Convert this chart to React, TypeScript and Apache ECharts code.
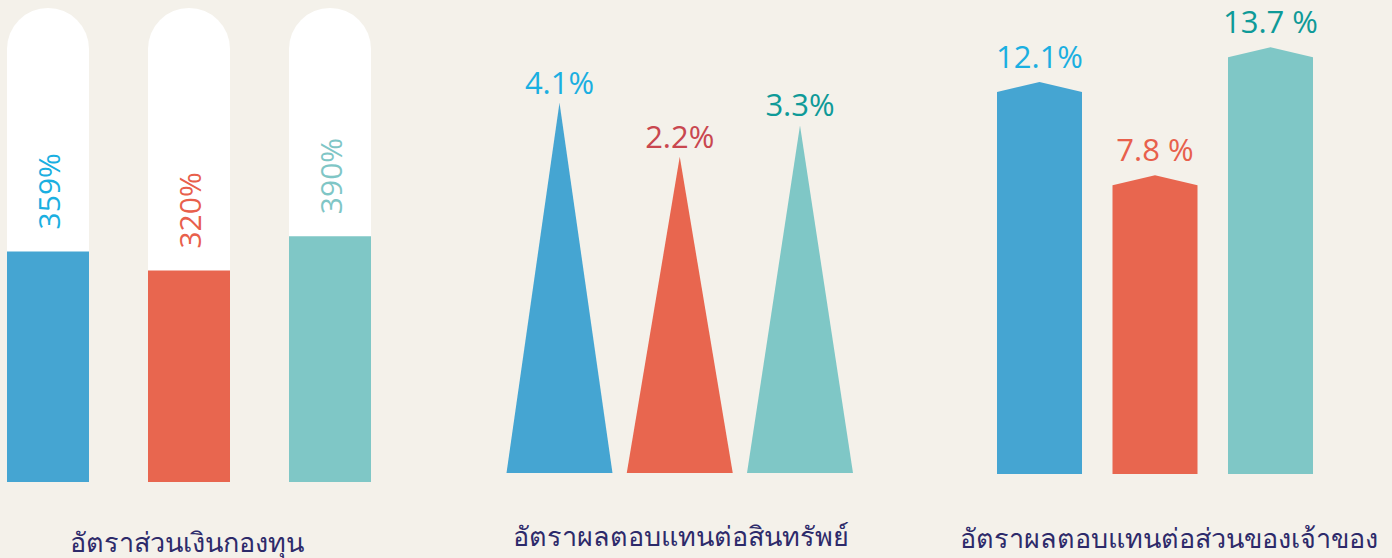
import React, { useEffect, useRef } from "react";
import * as echarts from "echarts";

// ---- data ----
const capCategories = ["c1", "c2", "c3"];
const capValues = [359, 320, 390];
const capLabels = ["359%", "320%", "390%"];

const roaCategories = ["r1", "r2", "r3"];
const roaValues = [4.1, 2.2, 3.3];
const roaLabels = ["4.1%", "2.2%", "3.3%"];

const roeCategories = ["e1", "e2", "e3"];
const roeValues = [12.1, 7.8, 13.7];
const roeLabels = ["12.1%", "7.8 %", "13.7 %"];

const titles = [
  "อัตราส่วนเงินกองทุน",
  "อัตราผลตอบแทนต่อสินทรัพย์",
  "อัตราผลตอบแทนต่อส่วนของเจ้าของ",
];

// ---- styles ----
const BG = "#f4f1ea";
const fills = ["#45a5d2", "#e8664f", "#7fc7c6"];
const capLabelColors = ["#1aafe1", "#e8604c", "#7fc6c6"];
const roaLabelColors = ["#1aafe1", "#c9474f", "#0e9a98"];
const roeLabelColors = ["#1aafe1", "#e8604c", "#0e9a98"];
const NUM_FONT = '"Open Sans", "Noto Sans", sans-serif';
const TITLE_FONT = '"Noto Sans", "Open Sans", sans-serif';
const TITLE_COLOR = "#2d2a6a";

const CAP_MIN = -110;
const CAP_MAX = 854;
const ROA_MIN = -8.9;
const ROA_MAX = 5;
const ROE_MIN = -5.5;
const ROE_MAX = 15;

const hiddenAxis = {
  axisLine: { show: false },
  axisTick: { show: false },
  axisLabel: { show: false },
  splitLine: { show: false },
};

export default function App() {
  const ref = useRef<HTMLDivElement>(null);

  useEffect(() => {
    document.body.style.margin = "0";
    document.body.style.background = BG;
    const chart = echarts.init(ref.current!, null, { renderer: "svg" });

    const option: any = {
      animation: false,
      backgroundColor: BG,
      grid: [
        { left: 48, top: 8, width: 282, height: 474 },
        { left: 559.5, top: 77, width: 240.5, height: 396 },
        { left: 1039.5, top: 29, width: 231, height: 445 },
      ],
      xAxis: [
        { type: "category", gridIndex: 0, data: capCategories, boundaryGap: false, ...hiddenAxis },
        { type: "category", gridIndex: 1, data: roaCategories, boundaryGap: false, ...hiddenAxis },
        { type: "category", gridIndex: 2, data: roeCategories, boundaryGap: false, ...hiddenAxis },
      ],
      yAxis: [
        { type: "value", gridIndex: 0, min: CAP_MIN, max: CAP_MAX, ...hiddenAxis },
        { type: "value", gridIndex: 1, min: ROA_MIN, max: ROA_MAX, ...hiddenAxis },
        { type: "value", gridIndex: 2, min: ROE_MIN, max: ROE_MAX, ...hiddenAxis },
      ],
      series: [
        {
          type: "custom",
          xAxisIndex: 0,
          yAxisIndex: 0,
          clip: false,
          data: capValues.map((v, i) => [i, v]),
          renderItem: (params: any, api: any) => {
            const i = api.value(0);
            const v = api.value(1);
            const top = api.coord([i, v]);
            const base = api.coord([i, CAP_MIN]);
            const full = api.coord([i, CAP_MAX]);
            const w = 82;
            return {
              type: "group",
              children: [
                {
                  type: "rect",
                  shape: {
                    x: base[0] - w / 2,
                    y: full[1],
                    width: w,
                    height: base[1] - full[1],
                    r: [41, 41, 0, 0],
                  },
                  style: { fill: "#ffffff" },
                },
                {
                  type: "rect",
                  shape: {
                    x: base[0] - w / 2,
                    y: top[1],
                    width: w,
                    height: base[1] - top[1],
                  },
                  style: { fill: fills[i] },
                },
                {
                  type: "text",
                  x: top[0],
                  y: top[1] - 22,
                  rotation: Math.PI / 2,
                  style: {
                    text: capLabels[i],
                    fill: capLabelColors[i],
                    fontSize: 30,
                    fontFamily: NUM_FONT,
                    align: "left",
                    verticalAlign: "middle",
                  },
                },
              ],
            };
          },
        },
        {
          type: "custom",
          xAxisIndex: 1,
          yAxisIndex: 1,
          clip: false,
          data: roaValues.map((v, i) => [i, v]),
          renderItem: (params: any, api: any) => {
            const i = api.value(0);
            const v = api.value(1);
            const top = api.coord([i, v]);
            const base = api.coord([i, ROA_MIN]);
            const hw = 53;
            return {
              type: "group",
              children: [
                {
                  type: "polygon",
                  shape: {
                    points: [
                      [base[0] - hw, base[1]],
                      [top[0], top[1]],
                      [base[0] + hw, base[1]],
                    ],
                  },
                  style: { fill: fills[i] },
                },
                {
                  type: "text",
                  x: top[0],
                  y: top[1] - 21,
                  style: {
                    text: roaLabels[i],
                    fill: roaLabelColors[i],
                    fontSize: 31,
                    fontFamily: NUM_FONT,
                    align: "center",
                    verticalAlign: "middle",
                  },
                },
              ],
            };
          },
        },
        {
          type: "custom",
          xAxisIndex: 2,
          yAxisIndex: 2,
          clip: false,
          data: roeValues.map((v, i) => [i, v]),
          renderItem: (params: any, api: any) => {
            const i = api.value(0);
            const v = api.value(1);
            const top = api.coord([i, v]);
            const base = api.coord([i, ROE_MIN]);
            const hw = 42.5;
            const peak = 10;
            return {
              type: "group",
              children: [
                {
                  type: "polygon",
                  shape: {
                    points: [
                      [base[0] - hw, base[1]],
                      [base[0] - hw, top[1]],
                      [top[0], top[1] - peak],
                      [base[0] + hw, top[1]],
                      [base[0] + hw, base[1]],
                    ],
                  },
                  style: { fill: fills[i] },
                },
                {
                  type: "text",
                  x: top[0],
                  y: top[1] - peak - 26,
                  style: {
                    text: roeLabels[i],
                    fill: roeLabelColors[i],
                    fontSize: 31,
                    fontFamily: NUM_FONT,
                    align: "center",
                    verticalAlign: "middle",
                  },
                },
              ],
            };
          },
        },
      ],
      graphic: [
        { x: 187, y: 541, t: titles[0] },
        { x: 681, y: 535, t: titles[1] },
        { x: 1169, y: 537, t: titles[2] },
      ].map((g) => ({
        type: "text",
        x: g.x,
        y: g.y,
        style: {
          text: g.t,
          fill: TITLE_COLOR,
          fontSize: 27,
          fontFamily: TITLE_FONT,
          align: "center",
          verticalAlign: "middle",
        },
      })),
    };

    chart.setOption(option);
    return () => chart.dispose();
  }, []);

  return (
    <div
      ref={ref}
      style={{ position: "fixed", left: 0, top: 0, width: 1392, height: 558 }}
    />
  );
}
